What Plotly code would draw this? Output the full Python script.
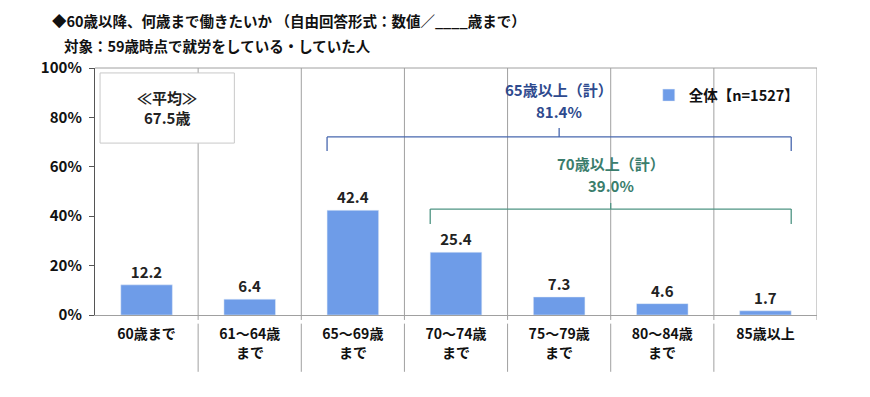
import plotly.graph_objects as go

category_line1 = ["60歳まで", "61～64歳", "65～69歳", "70～74歳", "75～79歳", "80～84歳", "85歳以上"]
category_line2 = ["", "まで", "まで", "まで", "まで", "まで", ""]
values = [12.2, 6.4, 42.4, 25.4, 7.3, 4.6, 1.7]
value_labels = ["12.2", "6.4", "42.4", "25.4", "7.3", "4.6", "1.7"]
series_name = "全体【n=1527】"
y_ticks = [0, 20, 40, 60, 80, 100]
y_tick_labels = ["0%", "20%", "40%", "60%", "80%", "100%"]
mean_lines = ["≪平均≫", "67.5歳"]
group65_lines = ["65歳以上（計）", "81.4%"]
group70_lines = ["70歳以上（計）", "39.0%"]
title_line1 = "◆60歳以降、何歳まで働きたいか （自由回答形式：数値／____歳まで）"
title_line2 = "対象：59歳時点で就労をしている・していた人"

FONT = "Noto Sans CJK JP"
BAR = "#6E9CE8"
GRID = "#A0A0A0"
BLUE_LINE = "#4767AE"
BLUE_TXT = "#2E4A8E"
GREEN_LINE = "#4E9483"
GREEN_TXT = "#3A7D6C"

xs = list(range(len(category_line1)))

fig = go.Figure()
fig.add_trace(go.Bar(
    x=xs, y=values, name=series_name, marker_color=BAR, width=0.5,
    text=value_labels, textposition="outside", cliponaxis=False,
    textfont=dict(family=FONT, size=15, color="#222", weight="bold"),
    showlegend=True,
))

shapes = []
for i in range(len(xs)):
    b = i + 0.5
    shapes.append(dict(type="line", xref="x", yref="paper", x0=b, x1=b, y0=-0.02, y1=1,
                       line=dict(color=GRID, width=1), layer="below"))
shapes.append(dict(type="line", xref="paper", yref="paper", x0=0, x1=1, y0=1, y1=1,
                   line=dict(color=GRID, width=1), layer="below"))
for i in range(len(xs) - 1):
    b = i + 0.5
    shapes.append(dict(type="line", xref="x", yref="paper", x0=b, x1=b, y0=-0.035, y1=-0.23,
                       line=dict(color=GRID, width=1)))
shapes.append(dict(type="rect", xref="paper", yref="paper", x0=0.007, x1=0.193, y0=0.696, y1=0.98,
                   line=dict(color="#C8C8C8", width=1), fillcolor="white"))

def bracket(x0, x1, y, drop, rise, color):
    xm = (x0 + x1) / 2
    return [
        dict(type="line", xref="x", yref="y", x0=x0, x1=x1, y0=y, y1=y, line=dict(color=color, width=1.3)),
        dict(type="line", xref="x", yref="y", x0=x0, x1=x0, y0=y, y1=drop, line=dict(color=color, width=1.3)),
        dict(type="line", xref="x", yref="y", x0=x1, x1=x1, y0=y, y1=drop, line=dict(color=color, width=1.3)),
        dict(type="line", xref="x", yref="y", x0=xm, x1=xm, y0=y, y1=rise, line=dict(color=color, width=1.3)),
    ]

shapes += bracket(1.75, 6.25, 72.1, 66.4, 75.7, BLUE_LINE)
shapes += bracket(2.75, 6.25, 42.9, 36.8, 45.3, GREEN_LINE)

def txt(xref, yref, x, y, text, color, size=15, xanchor="center"):
    return dict(xref=xref, yref=yref, x=x, y=y, xanchor=xanchor, yanchor="middle",
                text=text, showarrow=False,
                font=dict(family=FONT, size=size, color=color, weight="bold"))

annotations = [
    txt("paper", "paper", 0.1, 0.879, mean_lines[0], "#222"),
    txt("paper", "paper", 0.1, 0.798, mean_lines[1], "#222"),
    txt("x", "y", 4.0, 91.1, group65_lines[0], BLUE_TXT),
    txt("x", "y", 4.0, 82.2, group65_lines[1], BLUE_TXT),
    txt("x", "y", 4.5, 61.5, group70_lines[0], GREEN_TXT),
    txt("x", "y", 4.5, 52.6, group70_lines[1], GREEN_TXT),
    txt("paper", "paper", -0.062, 1.194, title_line1, "#111", size=14.5, xanchor="left"),
    txt("paper", "paper", -0.046, 1.093, title_line2, "#111", size=14.5, xanchor="left"),
]
for i, t in enumerate(category_line2):
    if t:
        annotations.append(txt("x", "paper", xs[i], -0.15, t, "#111", size=14))

fig.update_layout(
    width=870, height=397,
    margin=dict(l=87, r=61, t=60, b=90),
    paper_bgcolor="white", plot_bgcolor="white",
    font=dict(family=FONT, color="#111"),
    shapes=shapes, annotations=annotations,
    showlegend=True,
    legend=dict(x=0.767, y=0.89, xanchor="left", yanchor="middle", bgcolor="rgba(0,0,0,0)",
                font=dict(family=FONT, size=14.5, color="#111", weight="bold"),
                itemwidth=30),
    bargap=0.5,
)
fig.update_xaxes(
    range=[-0.5, len(xs) - 0.5], tickmode="array", tickvals=xs, ticktext=category_line1,
    showgrid=False, zeroline=False, showline=True, linecolor=GRID, linewidth=1, ticks="",
    ticklabelstandoff=6,
    tickfont=dict(family=FONT, size=14, color="#111", weight="bold"),
)
fig.update_yaxes(
    range=[0, 100], tickmode="array", tickvals=y_ticks, ticktext=y_tick_labels,
    showgrid=False, zeroline=False, showline=True, linecolor="#555", linewidth=1.3,
    ticks="outside", ticklen=5, tickcolor="#555", ticklabelstandoff=4,
    tickfont=dict(family=FONT, size=15, color="#111", weight="bold"),
)

fig.write_html("out.html")
